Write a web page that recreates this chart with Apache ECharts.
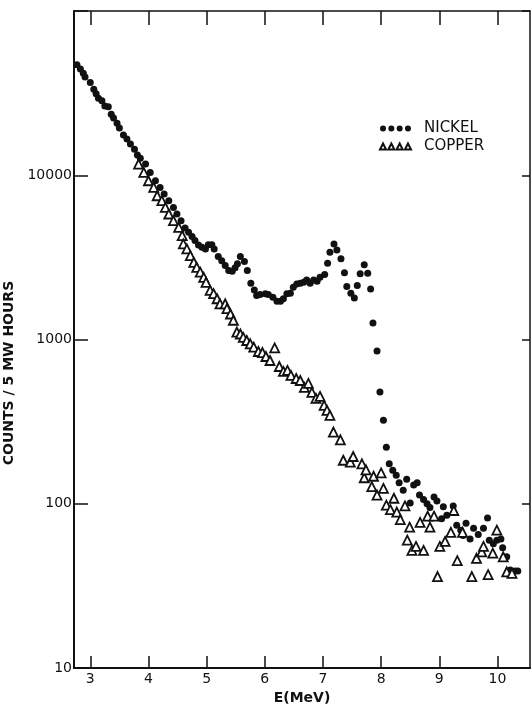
<!DOCTYPE html>
<html>
<head>
<meta charset="utf-8">
<script src="https://cdn.jsdelivr.net/npm/echarts@6/dist/echarts.min.js"></script>
<style>
  html, body { margin: 0; padding: 0; background: #fff; }
  #chart { width: 532px; height: 704px; }
</style>
</head>
<body>
<div id="chart"></div>
<script>
// energies (MeV) and counts
var nickelE = [2.77, 2.83, 2.88, 2.91, 3.00, 3.06, 3.10, 3.14, 3.20, 3.25, 3.31, 3.36, 3.40, 3.46, 3.50,
  3.57, 3.63, 3.69, 3.76, 3.81, 3.86, 3.95, 4.03, 4.12, 4.20, 4.27, 4.35, 4.43, 4.49, 4.56,
  4.63, 4.69, 4.75, 4.80, 4.86, 4.92, 4.98, 5.03, 5.09, 5.13, 5.20, 5.26, 5.32, 5.38, 5.44,
  5.49, 5.53, 5.58, 5.65, 5.70, 5.76, 5.82, 5.86, 5.92, 6.01, 6.06, 6.14, 6.21, 6.27, 6.32,
  6.38, 6.44, 6.49, 6.55, 6.61, 6.67, 6.72, 6.78, 6.84, 6.90, 6.95, 7.03, 7.08, 7.12, 7.19,
  7.24, 7.31, 7.37, 7.41, 7.48, 7.54, 7.59, 7.64, 7.71, 7.77, 7.82, 7.86, 7.93, 7.98, 8.04,
  8.09, 8.14, 8.20, 8.26, 8.31, 8.38, 8.44, 8.50, 8.56, 8.62, 8.66, 8.73, 8.79, 8.84, 8.91,
  8.96, 9.04, 9.07, 9.13, 9.24, 9.30, 9.37, 9.41, 9.46, 9.53, 9.59, 9.67, 9.76, 9.83, 9.86,
  9.93, 9.99, 10.06, 10.09, 10.16, 10.22, 10.30, 10.35]
var nickelCounts = [47000, 44300, 41800, 39700, 36700, 33400, 31400, 29400, 28400, 26400, 26100, 23500, 22300, 20700, 19400,
  17600, 16600, 15500, 14400, 13300, 12700, 11700, 10400, 9260, 8430, 7690, 7000, 6370, 5810, 5290,
  4780, 4490, 4230, 4000, 3760, 3640, 3560, 3780, 3770, 3560, 3200, 3020, 2820, 2630, 2600,
  2730, 2890, 3200, 2980, 2630, 2200, 2000, 1850, 1880, 1900, 1880, 1810, 1710, 1710, 1770,
  1900, 1910, 2080, 2180, 2200, 2230, 2300, 2200, 2300, 2260, 2390, 2490, 2910, 3400, 3820,
  3510, 3100, 2550, 2100, 1910, 1790, 2130, 2510, 2850, 2530, 2030, 1260, 851, 479, 322,
  221, 175, 160, 149, 134, 121, 141, 101, 130, 134, 113, 106, 100, 95, 110,
  104, 81, 96, 85, 97, 74, 69, 64, 76, 61, 71, 65, 71, 82, 60,
  57, 60, 61, 54, 47.5, 39.5, 39, 39]

var copperE = [3.83, 3.92, 4.00, 4.09, 4.15, 4.23, 4.29, 4.35, 4.43, 4.52, 4.58, 4.60, 4.66, 4.72, 4.78,
  4.83, 4.89, 4.95, 4.99, 5.06, 5.12, 5.18, 5.23, 5.32, 5.35, 5.41, 5.46, 5.52, 5.58, 5.63,
  5.69, 5.75, 5.81, 5.89, 5.96, 6.02, 6.09, 6.17, 6.25, 6.32, 6.39, 6.45, 6.54, 6.61, 6.68,
  6.75, 6.81, 6.88, 6.95, 7.02, 7.07, 7.12, 7.18, 7.30, 7.35, 7.47, 7.52, 7.67, 7.71, 7.74,
  7.84, 7.87, 7.93, 8.00, 8.04, 8.09, 8.16, 8.22, 8.27, 8.33, 8.41, 8.45, 8.49, 8.53, 8.60,
  8.67, 8.73, 8.80, 8.84, 8.91, 8.97, 9.01, 9.10, 9.20, 9.25, 9.31, 9.40, 9.56, 9.64, 9.73,
  9.76, 9.84, 9.92, 9.99, 10.10, 10.16, 10.25]
var copperCounts = [11700, 10400, 9260, 8430, 7500, 7000, 6370, 5810, 5290, 4820, 4290, 3820, 3560, 3240, 2950,
  2750, 2570, 2390, 2230, 1990, 1900, 1770, 1650, 1650, 1540, 1430, 1310, 1110, 1080, 1030,
  986, 941, 898, 845, 833, 788, 745, 889, 685, 639, 648, 604, 579, 563, 511,
  540, 477, 438, 450, 397, 370, 345, 273, 245, 184, 179, 194, 175, 144, 161,
  127, 147, 113, 154, 124, 98, 92, 108, 89, 80, 97, 60, 72, 52, 55,
  77, 52, 84, 72, 84, 36, 55, 59, 67, 91, 45, 67, 36, 46.5, 51,
  55, 37, 50, 69, 47.5, 38.5, 37.7]

var energyTicks = [3, 4, 5, 6, 7, 8, 9, 10]

function zip(xs, ys) {
  var out = []
  for (var i = 0; i < xs.length; i++) out.push([xs[i], ys[i]])
  return out
}

var ink = '#111'
var font = 'DejaVu Sans'

// legend icons: four dots / four triangles
var dotsIcon = 'path://M1,5a4,4 0 1,0 8,0a4,4 0 1,0 -8,0M12,5a4,4 0 1,0 8,0a4,4 0 1,0 -8,0M23,5a4,4 0 1,0 8,0a4,4 0 1,0 -8,0M34,5a4,4 0 1,0 8,0a4,4 0 1,0 -8,0'
var triIcon = 'path://M1,9L5,1L9,9ZM12,9L16,1L20,9ZM23,9L27,1L31,9ZM34,9L38,1L42,9Z'

var myChart = echarts.init(document.getElementById('chart'))

var option = {
  backgroundColor: '#fff',
  animation: false,
  // fixed frame, no automatic shrinking for labels / names
  grid: { left: 74, right: 2, top: 11, bottom: 36, containLabel: false, outerBoundsMode: 'none' },
  legend: {
    orient: 'vertical',
    left: 374,
    top: 116,
    itemWidth: 31,
    itemHeight: 8,
    itemGap: 3,
    textStyle: { color: ink, fontFamily: font, fontSize: 15, padding: [0, 0, 0, 8] },
    data: [
      { name: 'NICKEL', icon: dotsIcon },
      { name: 'COPPER', icon: triIcon }
    ]
  },
  xAxis: [{
    type: 'value',
    min: 2.72,
    max: 10.56,
    position: 'bottom',
    name: 'E(MeV)',
    nameLocation: 'middle',
    nameGap: 19,
    nameTextStyle: { color: ink, fontFamily: font, fontSize: 14, fontWeight: 'bold' },
    axisLine: { show: true, lineStyle: { color: ink, width: 2 } },
    axisTick: { show: true, inside: true, length: 12, customValues: energyTicks, lineStyle: { color: ink, width: 1.5 } },
    axisLabel: { show: true, customValues: energyTicks, color: ink, fontFamily: font, fontSize: 14, margin: 4 },
    splitLine: { show: false }
  }, {
    type: 'value',
    min: 2.72,
    max: 10.56,
    position: 'top',
    axisLine: { show: true, lineStyle: { color: ink, width: 1.5 } },
    axisTick: { show: true, inside: true, length: 14, customValues: energyTicks, lineStyle: { color: ink, width: 1.5 } },
    axisLabel: { show: false },
    splitLine: { show: false }
  }],
  yAxis: [{
    type: 'log',
    logBase: 10,
    min: 10,
    max: 100000,
    position: 'left',
    name: 'COUNTS / 5 MW HOURS',
    nameLocation: 'middle',
    nameGap: 37,
    nameTextStyle: { color: ink, fontFamily: font, fontSize: 14, fontWeight: 'bold', padding: [0, 67, 0, 0] },
    axisLine: { show: true, lineStyle: { color: ink, width: 2 } },
    axisTick: { show: true, inside: true, length: 14, lineStyle: { color: ink, width: 1.5 } },
    axisLabel: {
      color: ink, fontFamily: font, fontSize: 14, margin: 2,
      formatter: function (v) { return v >= 100000 ? '' : String(Math.round(v)) }
    },
    splitLine: { show: false }
  }, {
    type: 'log',
    logBase: 10,
    min: 10,
    max: 100000,
    position: 'right',
    axisLine: { show: true, lineStyle: { color: ink, width: 1.5 } },
    axisTick: { show: true, inside: true, length: 8, lineStyle: { color: ink, width: 1.5 } },
    axisLabel: { show: false },
    splitLine: { show: false }
  }],
  series: [{
    name: 'NICKEL',
    type: 'scatter',
    symbol: 'circle',
    symbolSize: 7,
    itemStyle: { color: ink, opacity: 1 },
    data: zip(nickelE, nickelCounts)
  }, {
    name: 'COPPER',
    type: 'scatter',
    symbol: 'triangle',
    symbolSize: 9,
    itemStyle: { color: '#fff', borderColor: ink, borderWidth: 1.8, opacity: 1 },
    data: zip(copperE, copperCounts)
  }]
}

myChart.setOption(option)
</script>
</body>
</html>
